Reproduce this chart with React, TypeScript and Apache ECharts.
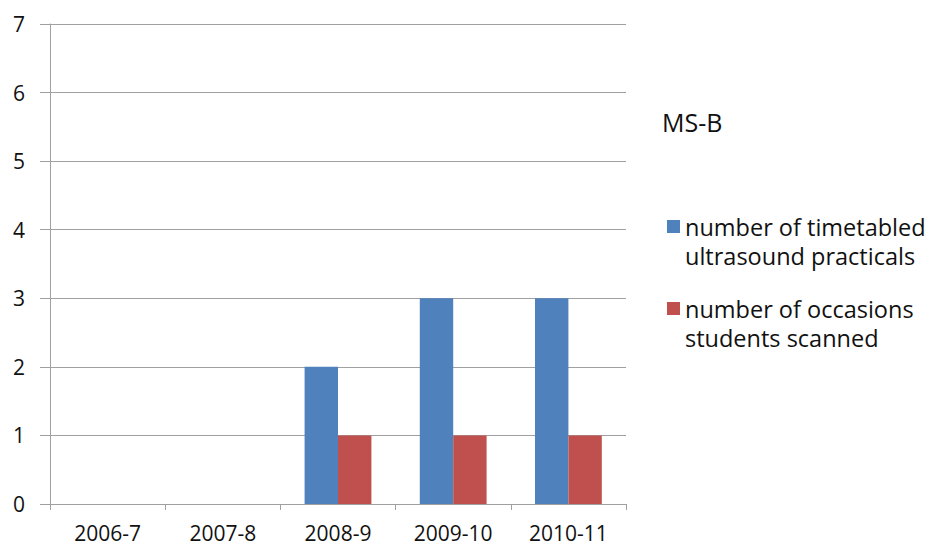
import React, { useEffect, useRef } from "react";
import * as echarts from "echarts";

const categories = ["2006-7", "2007-8", "2008-9", "2009-10", "2010-11"];
const timetabled = [0, 0, 2, 3, 3];
const scanned = [0, 0, 1, 1, 1];
const seriesNames = [
  "number of timetabled\nultrasound practicals",
  "number of occasions\nstudents scanned",
];
const chartTitle = "MS-B";

const FONT = "Open Sans";
// square at top of a taller box so the icon lines up with the first text line
const LEGEND_ICON = "path://M0 0h13v13H0z M0 42h13";

export default function App() {
  const ref = useRef<HTMLDivElement>(null);
  useEffect(() => {
    if (!ref.current) return;
    const chart = echarts.init(ref.current, null, { renderer: "svg" });
    chart.setOption({
      animation: false,
      backgroundColor: "#ffffff",
      title: {
        text: chartTitle,
        left: 662,
        top: 109,
        padding: 0,
        textStyle: { fontFamily: FONT, fontSize: 25, fontWeight: "normal", color: "#111" },
      },
      legend: {
        orient: "vertical",
        left: 667,
        top: 212,
        padding: 0,
        itemWidth: 13,
        itemHeight: 42,
        itemGap: 24,
        icon: LEGEND_ICON,
        data: seriesNames,
        textStyle: {
          fontFamily: FONT,
          fontSize: 23.5,
          color: "#111",
          lineHeight: 29,
        },
      },
      grid: { left: 50, right: 305, top: 24, bottom: 44, containLabel: false },
      xAxis: {
        type: "category",
        data: categories,
        axisLine: { lineStyle: { color: "#a0a0a0", width: 1 } },
        axisTick: { show: true, length: 6, alignWithLabel: false, lineStyle: { color: "#a0a0a0" } },
        axisLabel: { fontFamily: FONT, fontSize: 21, lineHeight: 21, color: "#111", margin: 18 },
      },
      yAxis: {
        type: "value",
        min: 0,
        max: 7,
        interval: 1,
        axisLine: { show: true, lineStyle: { color: "#a0a0a0", width: 1 } },
        axisTick: { show: true, length: 10, lineStyle: { color: "#a0a0a0" } },
        splitLine: { lineStyle: { color: "#a0a0a0", width: 1 } },
        axisLabel: { fontFamily: FONT, fontSize: 21, color: "#111", margin: 25 },
      },
      series: [
        {
          name: seriesNames[0],
          type: "bar",
          data: timetabled,
          itemStyle: { color: "#4F81BD" },
          barGap: "0%",
          barCategoryGap: "42%",
        },
        {
          name: seriesNames[1],
          type: "bar",
          data: scanned,
          itemStyle: { color: "#C0504D" },
          barGap: "0%",
          barCategoryGap: "42%",
        },
      ],
    });
    return () => chart.dispose();
  }, []);
  return <div ref={ref} style={{ width: 931, height: 548, position: "absolute", left: 0, top: 0 }} />;
}
